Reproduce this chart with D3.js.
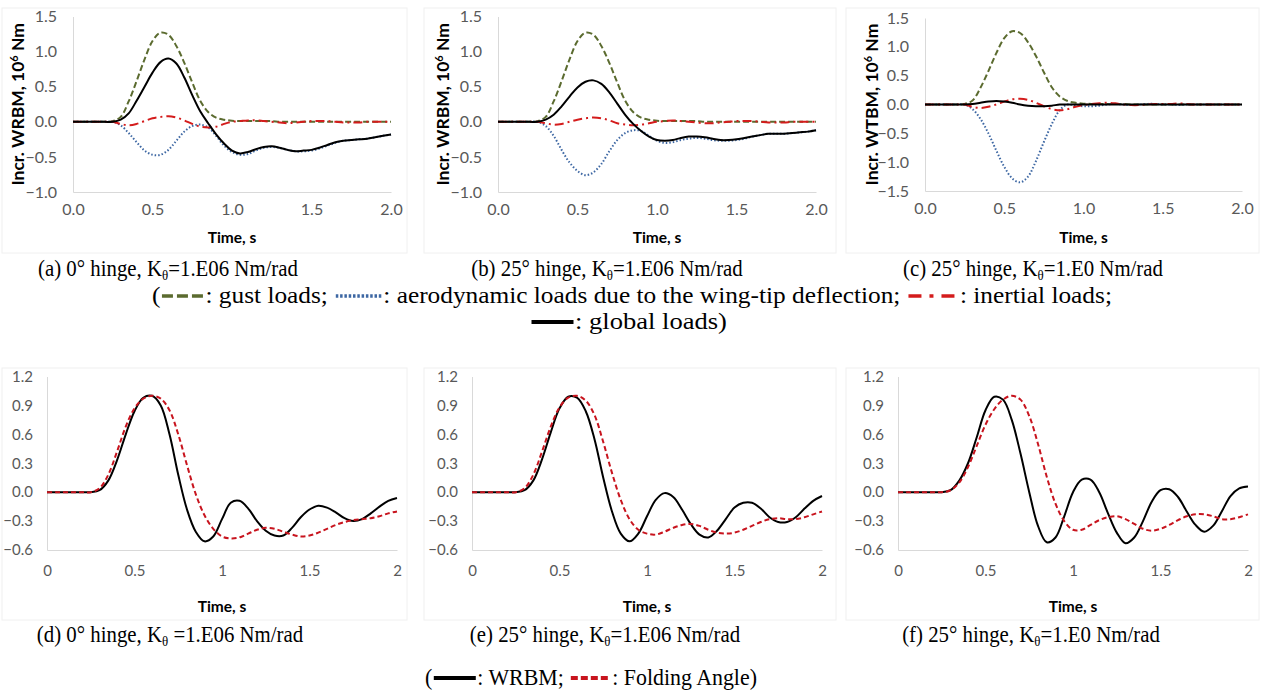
<!DOCTYPE html>
<html><head><meta charset="utf-8">
<script src="https://cdn.jsdelivr.net/npm/d3@7"></script>
<style>body{margin:0;background:#fff}svg{display:block}text{white-space:pre}</style>
</head><body><svg id="c" width="1261" height="692"></svg>
<script>
// ---------- DATA ----------
const time = [0,0.05,0.1,0.15,0.2,0.25,0.3,0.35,0.4,0.45,0.5,0.55,0.6,0.65,0.7,0.75,0.8,0.85,0.9,0.95,
  1.0,1.05,1.1,1.15,1.2,1.25,1.3,1.35,1.4,1.45,1.5,1.55,1.6,1.65,1.7,1.75,1.8,1.85,1.9,1.95,2.0];

// Top row: incremental loads, 10^6 Nm
const gustLoads = [0,0,0,0,0,0.01, 0.07,0.29,0.58,0.89,1.15,1.27,1.24,1.08,0.84,0.56,0.3,0.14,0.06,0.03,
  0.015,0.01,0.01,0.01,0.01,0.01,0,0,0,0, 0,0,0,0,0,0,0,0,0,0,0];
const aeroA = [0,0,0,0,0,0, -0.05,-0.16,-0.29,-0.41,-0.47,-0.47,-0.4,-0.27,-0.14,-0.06,-0.04,-0.08,-0.2,-0.34,
  -0.43,-0.47,-0.46,-0.41,-0.37,-0.36,-0.37,-0.4,-0.42,-0.42, -0.41,-0.38,-0.34,-0.3,-0.27,-0.26,-0.25,-0.24,-0.22,-0.2,-0.18];
const inertialA = [0,0,0,0,0,0, -0.03,-0.05,-0.03,0.01,0.05,0.07,0.08,0.06,0.02,-0.03,-0.07,-0.08,-0.07,-0.03,
  0,0.01,0.02,0.02,0.01,0,-0.01,-0.02,-0.01,0, 0.01,0.01,0.01,0,-0.01,-0.01,-0.01,0,0,0,0];
const globalA = [0,0,0,0,0,0, 0.03,0.12,0.3,0.5,0.7,0.85,0.9,0.83,0.63,0.38,0.15,-0.02,-0.18,-0.31,
  -0.41,-0.45,-0.43,-0.39,-0.36,-0.35,-0.37,-0.4,-0.42,-0.41, -0.4,-0.37,-0.33,-0.29,-0.27,-0.26,-0.25,-0.24,-0.22,-0.2,-0.18];

const aeroB = [0,0,0,0,0,0, -0.06,-0.2,-0.4,-0.58,-0.7,-0.76,-0.72,-0.6,-0.42,-0.26,-0.16,-0.12,-0.13,-0.2,
  -0.27,-0.3,-0.29,-0.26,-0.24,-0.23,-0.24,-0.26,-0.27,-0.27, -0.26,-0.24,-0.21,-0.19,-0.17,-0.17,-0.17,-0.16,-0.15,-0.14,-0.12];
const inertialB = [0,0,0,0,0,0, -0.02,-0.04,-0.03,0,0.03,0.05,0.06,0.05,0.02,-0.02,-0.04,-0.05,-0.04,-0.02,
  0,0.01,0.02,0.01,0,-0.01,-0.02,-0.02,-0.01,0, 0.01,0.01,0.01,0,-0.01,-0.01,-0.01,0,0,0,0];
const globalB = [0,0,0,0,0,0, 0.03,0.1,0.22,0.36,0.49,0.57,0.59,0.54,0.42,0.26,0.1,-0.03,-0.13,-0.21,
  -0.26,-0.27,-0.26,-0.23,-0.21,-0.21,-0.22,-0.24,-0.26,-0.26, -0.25,-0.23,-0.21,-0.19,-0.17,-0.17,-0.17,-0.16,-0.15,-0.14,-0.12];

const aeroC = [0,0,0,0,0,0, -0.08,-0.25,-0.5,-0.8,-1.08,-1.28,-1.35,-1.25,-0.98,-0.65,-0.34,-0.1,0.0,-0.02,
  -0.03,-0.03,-0.02,0,0.01,0,-0.01,0,0.01,0.01, 0,0,-0.01,0,0,0,0,0,0,0,0];
const inertialC = [0,0,0,0,0,0, -0.04,-0.06,-0.04,0,0.05,0.09,0.1,0.08,0.03,-0.03,-0.08,-0.1,-0.08,-0.04,
  -0.01,0.01,0.02,0.03,0.02,0,-0.01,-0.01,0,0.01, 0.01,0.01,0.02,0.01,0,0,0,0,0,0,0];
const globalC = [0,0,0,0,0,0, 0.01,0.03,0.05,0.06,0.05,0.03,0,-0.02,-0.03,-0.03,-0.02,0,0,0,
  0,0,0,0,0,0,0,0,0,0, 0,0,0,0,0,0,0,0,0,0,0];

// Bottom row: normalised WRBM and folding angle
const wrbmD = [0,0,0,0,0,0, 0.02,0.12,0.33,0.6,0.84,0.98,1.0,0.9,0.6,0.18,-0.18,-0.41,-0.51,-0.46,
  -0.28,-0.11,-0.09,-0.17,-0.3,-0.4,-0.45,-0.45,-0.37,-0.26, -0.18,-0.14,-0.16,-0.21,-0.27,-0.3,-0.28,-0.22,-0.15,-0.09,-0.06];
const foldD = [0,0,0,0,0,0, 0.04,0.18,0.42,0.68,0.87,0.97,1.0,0.97,0.85,0.6,0.28,-0.02,-0.24,-0.38,
  -0.46,-0.48,-0.47,-0.43,-0.39,-0.37,-0.38,-0.41,-0.44,-0.46, -0.45,-0.42,-0.38,-0.34,-0.31,-0.29,-0.28,-0.27,-0.25,-0.22,-0.2];
const wrbmE = [0,0,0,0,0,0, 0.02,0.12,0.34,0.62,0.87,0.99,0.98,0.84,0.55,0.15,-0.2,-0.43,-0.51,-0.43,
  -0.25,-0.08,-0.01,-0.05,-0.18,-0.33,-0.44,-0.47,-0.4,-0.28, -0.16,-0.11,-0.11,-0.17,-0.26,-0.31,-0.31,-0.26,-0.17,-0.09,-0.04];
const foldE = [0,0,0,0,0,0, 0.04,0.18,0.42,0.68,0.88,0.98,1.0,0.95,0.8,0.52,0.2,-0.08,-0.28,-0.39,
  -0.43,-0.44,-0.41,-0.37,-0.34,-0.33,-0.35,-0.39,-0.42,-0.43, -0.42,-0.39,-0.35,-0.31,-0.28,-0.27,-0.28,-0.28,-0.26,-0.23,-0.2];
const wrbmF = [0,0,0,0,0,0, 0.02,0.12,0.3,0.57,0.85,0.99,0.96,0.75,0.4,0.0,-0.35,-0.52,-0.47,-0.25,
  0.0,0.13,0.13,0.0,-0.22,-0.42,-0.53,-0.47,-0.3,-0.1, 0.02,0.03,-0.05,-0.2,-0.34,-0.41,-0.35,-0.2,-0.04,0.04,0.06];
const foldF = [0,0,0,0,0,0, 0.02,0.1,0.26,0.48,0.7,0.86,0.96,1.0,0.96,0.79,0.5,0.16,-0.12,-0.3,
  -0.39,-0.39,-0.34,-0.29,-0.26,-0.25,-0.28,-0.33,-0.38,-0.4, -0.38,-0.34,-0.29,-0.25,-0.23,-0.23,-0.25,-0.28,-0.28,-0.26,-0.23];

// Tick labels
const xTicksTop = [0,0.5,1,1.5,2];
const xTicksBottom = [0,0.5,1,1.5,2];
const yTicksAB = [-1,-0.5,0,0.5,1,1.5];
const yTicksC = [-1.5,-1,-0.5,0,0.5,1,1.5];
const yTicksBottom = [-0.6,-0.3,0,0.3,0.6,0.9,1.2];

const captionsTop = [["(a) 0° hinge, K","θ","=1.E06 Nm/rad"],["(b) 25° hinge, K","θ","=1.E06 Nm/rad"],["(c) 25° hinge, K","θ","=1.E0 Nm/rad"]];
const captionsBottom = [["(d) 0° hinge, K","θ"," =1.E06 Nm/rad"],["(e) 25° hinge, K","θ","=1.E06 Nm/rad"],["(f) 25° hinge, K","θ","=1.E0 Nm/rad"]];

// ---------- STYLES ----------
const ST = {
  gust:{stroke:"#5b6b2f", w:2, dash:"6,3"},
  aero:{stroke:"#3d67a3", w:2, dash:"1.5,2"},
  inertial:{stroke:"#d41c1c", w:2, dash:"9,4,2,4"},
  global:{stroke:"#000", w:2, dash:null},
  wrbm:{stroke:"#000", w:2, dash:null},
  fold:{stroke:"#c8141e", w:2, dash:"5,3"}
};

const svg = d3.select('#c');
const tickFont = "Lato, 'Open Sans', sans-serif";

const topPanels = [
  {x:[73,391], y:[192,16.5], dom:[-1,1.5], yt:yTicksAB, ylab:"WRBM", ytx:18, box:[2,8,405,245],
   series:[[gustLoads,"gust"],[aeroA,"aero"],[inertialA,"inertial"],[globalA,"global"]]},
  {x:[498,816], y:[192,16.5], dom:[-1,1.5], yt:yTicksAB, ylab:"WRBM", ytx:443, box:[424,8,412,245],
   series:[[gustLoads,"gust"],[aeroB,"aero"],[inertialB,"inertial"],[globalB,"global"]]},
  {x:[925,1242], y:[191,18], dom:[-1.5,1.5], yt:yTicksC, ylab:"WTBM", ytx:872, box:[846,8,413,245],
   series:[[gustLoads,"gust"],[aeroC,"aero"],[inertialC,"inertial"],[globalC,"global"]]}
];
const bottomPanels = [
  {x:[47,397], y:[550,376.5], box:[2,368,405,252], series:[[wrbmD,"wrbm"],[foldD,"fold"]]},
  {x:[472,822], y:[550,376.5], box:[424,368,412,252], series:[[wrbmE,"wrbm"],[foldE,"fold"]]},
  {x:[898,1248], y:[550,376.5], box:[846,368,413,252], series:[[wrbmF,"wrbm"],[foldF,"fold"]]}
];

function drawPanel(p, top){
  const g = svg.append('g');
  g.append('rect').attr('x',p.box[0]).attr('y',p.box[1]).attr('width',p.box[2]).attr('height',p.box[3])
    .attr('fill','none').attr('stroke','#f0f0f0');
  const xs = d3.scaleLinear().domain([0,2]).range(p.x);
  const ys = d3.scaleLinear().domain(top ? p.dom : [-0.6,1.2]).range(p.y);
  const yt = top ? p.yt : yTicksBottom;
  const xt = top ? xTicksTop : xTicksBottom;
  const ya = g.append('g').attr('transform',`translate(${p.x[0]},0)`)
    .call(d3.axisLeft(ys).tickValues(yt).tickSize(0).tickPadding(top?16:14).tickFormat(d3.format(".1f")));
  const xa = g.append('g').attr('transform',`translate(0,${p.y[0]})`)
    .call(d3.axisBottom(xs).tickValues(xt).tickSize(0).tickPadding(top?12:15)
      .tickFormat(top ? d3.format(".1f") : d => String(d)));
  [ya,xa].forEach(a=>{
    a.select('.domain').attr('stroke','#d9d9d9').attr('stroke-width',1);
    a.selectAll('text').attr('font-family',tickFont).attr('font-size',top?16:15).attr('fill','#595959');
  });
  g.append('text').attr('x',(p.x[0]+p.x[1])/2).attr('y',top?243:612).attr('text-anchor','middle')
    .attr('font-family',tickFont).attr('font-weight','bold').attr('font-size',15.5).attr('fill','#000').text('Time, s');
  if(top){
    const t = g.append('text').attr('transform',`translate(${p.ytx},${(p.y[0]+p.y[1])/2}) rotate(-90)`)
      .attr('text-anchor','middle').attr('dy','0.35em')
      .attr('font-family',tickFont).attr('font-weight','bold').attr('font-size',17.5).attr('fill','#000');
    t.append('tspan').text(`Incr. ${p.ylab}, 10`);
    t.append('tspan').attr('font-size',11).attr('dy',-6).text('6');
    t.append('tspan').attr('dy',6).text(' Nm');
  }
  const line = d3.line().x((d,i)=>xs(time[i])).y(d=>ys(d)).curve(d3.curveCatmullRom.alpha(0.5));
  p.series.forEach(([vals,key])=>{
    const s = ST[key];
    g.append('path').datum(vals).attr('d',line).attr('fill','none')
      .attr('stroke',s.stroke).attr('stroke-width',s.w)
      .attr('stroke-dasharray',s.dash).attr('stroke-linejoin','round');
  });
}
topPanels.forEach(p=>drawPanel(p,true));
bottomPanels.forEach(p=>drawPanel(p,false));

// ---------- captions & legends ----------
const serif = "'Liberation Serif','Times New Roman',serif";
const FS = 24;
const LFS = 22.5;
const probe = svg.append('text').attr('font-family',serif).attr('font-size',FS);
probe.append('tspan').text(captionsTop[0][0]);
probe.append('tspan').attr('font-size',FS*0.62).text(captionsTop[0][1]);
probe.append('tspan').text(captionsTop[0][2]);
const SX = 260 / probe.node().getComputedTextLength();
probe.remove();

function caption(parts, cx, baseline){
  const g = svg.append('g').attr('transform',`translate(${cx},${baseline}) scale(${SX},1)`);
  const t = g.append('text').attr('text-anchor','middle').attr('font-family',serif).attr('font-size',FS).attr('fill','#000');
  t.append('tspan').text(parts[0]);
  t.append('tspan').attr('font-size',FS*0.62).attr('dy',4).text(parts[1]);
  t.append('tspan').attr('dy',-4).text(parts[2]);
}
const capTopX = [168,607,1033], capBotX = [170,605,1031];
captionsTop.forEach((c,i)=>caption(c,capTopX[i],276));
captionsBottom.forEach((c,i)=>caption(c,capBotX[i],642));

// legend row: texts are condensed to reach the target width; symbols keep fixed pixel width
function legendRow(items, x0, x1, baseline){
  const g = svg.append('g').attr('transform',`translate(0,${baseline})`);
  const meas = items.map(it=>{
    if(typeof it !== 'string') return 0;
    const t = g.append('text').attr('font-family',serif).attr('font-size',LFS).text(it);
    const w = t.node().getComputedTextLength(); t.remove(); return w;
  });
  const symW = d3.sum(items, it => typeof it === 'string' ? 0 : it.len + 3);
  const k = ((x1-x0) - symW) / d3.sum(meas);
  let x = x0;
  items.forEach((it,i)=>{
    if(typeof it === 'string'){
      g.append('text').attr('transform',`translate(${x},0) scale(${k},1)`)
        .attr('font-family',serif).attr('font-size',LFS).attr('fill','#000').text(it);
      x += meas[i]*k;
    } else {
      const s = ST[it.k];
      g.append('line').attr('x1',x+1.5).attr('x2',x+1.5+it.len).attr('y1',-7).attr('y2',-7)
        .attr('stroke',s.stroke).attr('stroke-width',it.w).attr('stroke-dasharray',it.dash);
      x += it.len + 3;
    }
  });
}
legendRow(["(",{k:"gust",w:3.5,dash:"11,4",len:42},": gust loads; ",{k:"aero",w:3.5,dash:"2.5,1.8",len:46},
  ": aerodynamic loads due to the wing-tip deflection; ",{k:"inertial",w:3.5,dash:"13,8,4,8",len:50},": inertial loads;"],152,1112,303);
legendRow([{k:"global",w:4,dash:null,len:42},": global loads)"],530,727,329);
legendRow(["(",{k:"wrbm",w:4,dash:null,len:42},": WRBM; ",{k:"fold",w:4,dash:"7,3",len:40},": Folding Angle)"],425,757,685);
</script></body></html>
